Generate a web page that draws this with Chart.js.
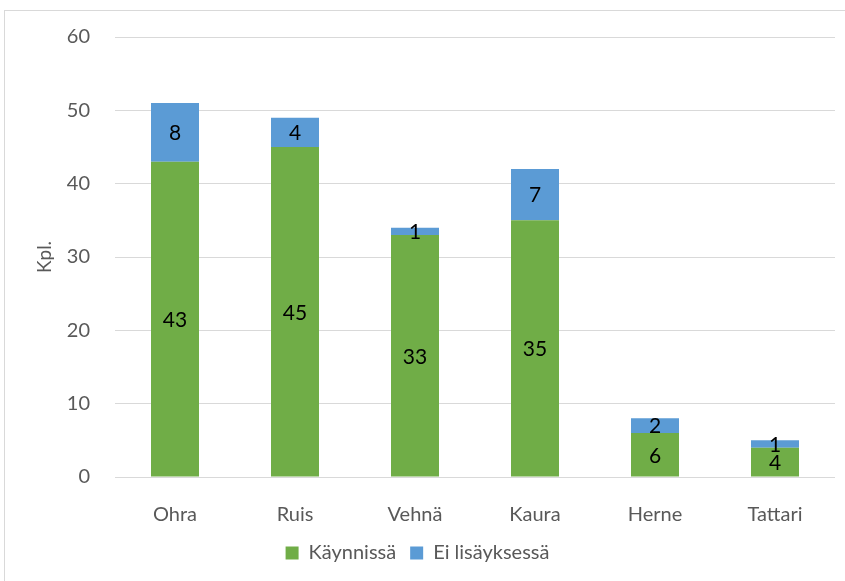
<!DOCTYPE html>
<html>
<head>
<meta charset="utf-8">
<script src="https://cdn.jsdelivr.net/npm/chart.js@4"></script>
<style>
  html, body { margin: 0; padding: 0; background: #fff; }
  #frame { position: absolute; left: 4px; top: 10px; width: 860px; height: 600px; border: 1px solid #d9d9d9; }
  #wrap { position: absolute; left: 0; top: 0; width: 845px; height: 581px; }
</style>
</head>
<body>
<div id="frame"></div>
<div id="wrap"><canvas id="barchart"></canvas></div>
<script>
const categories = ['Ohra', 'Ruis', 'Vehnä', 'Kaura', 'Herne', 'Tattari'];
const kaynnissa = [43, 45, 33, 35, 6, 4];
const eiLisayksessa = [8, 4, 1, 7, 2, 1];
const yTicks = [0, 10, 20, 30, 40, 50, 60];

// draw the value in the middle of every bar segment
const segmentLabels = {
    id: 'segmentLabels',
    afterDatasetsDraw(chart) {
        const ctx = chart.ctx;
        ctx.save();
        ctx.font = '21px Lato';
        ctx.fillStyle = '#000';
        ctx.textAlign = 'center';
        ctx.textBaseline = 'middle';
        chart.data.datasets.forEach((ds, i) => {
            chart.getDatasetMeta(i).data.forEach((bar, j) => {
                const mid = (bar.y + bar.base) / 2;
                ctx.fillText(ds.data[j], bar.x, mid + 1);
            });
        });
        ctx.restore();
    }
};

const ctx = document.getElementById('barchart').getContext('2d');
const myChart = new Chart(ctx, {
    type: 'bar',
    data: {
        labels: categories,
        datasets: [{
            label: 'Käynnissä',
            data: kaynnissa,
            backgroundColor: '#70ad47',
            borderWidth: 0
        }, {
            label: 'Ei lisäyksessä',
            data: eiLisayksessa,
            backgroundColor: '#5b9bd5',
            borderWidth: 0
        }]
    },
    options: {
        responsive: true,
        maintainAspectRatio: false,
        animation: false,
        datasets: { bar: { categoryPercentage: 1, barPercentage: 0.4 } },
        layout: { padding: { top: 35, right: 10, bottom: 8, left: 0 } },
        plugins: {
            tooltip: { enabled: false },
            legend: {
                position: 'bottom',
                labels: {
                    font: { family: 'Lato', size: 20 },
                    color: '#595959',
                    boxWidth: 13,
                    boxHeight: 13,
                    padding: 14
                }
            }
        },
        scales: {
            x: {
                stacked: true,
                grid: { display: false },
                border: { display: false },
                ticks: { font: { family: 'Lato', size: 20 }, color: '#595959', padding: 18 },
                afterFit(scale) { scale.height = 52; }
            },
            y: {
                stacked: true,
                min: 0,
                max: 60,
                afterBuildTicks(scale) { scale.ticks = yTicks.map(v => ({ value: v })); },
                grid: { color: '#d9d9d9', lineWidth: 1, drawTicks: false },
                border: { display: false },
                ticks: { font: { family: 'Lato', size: 20 }, color: '#595959', padding: 25 },
                title: {
                    display: true,
                    text: 'Kpl.',
                    font: { family: 'Lato', size: 19 },
                    color: '#595959',
                    padding: { top: 33, bottom: 0 }
                },
                afterFit(scale) { scale.width = 115; }
            }
        }
    },
    plugins: [segmentLabels]
});
</script>
</body>
</html>
